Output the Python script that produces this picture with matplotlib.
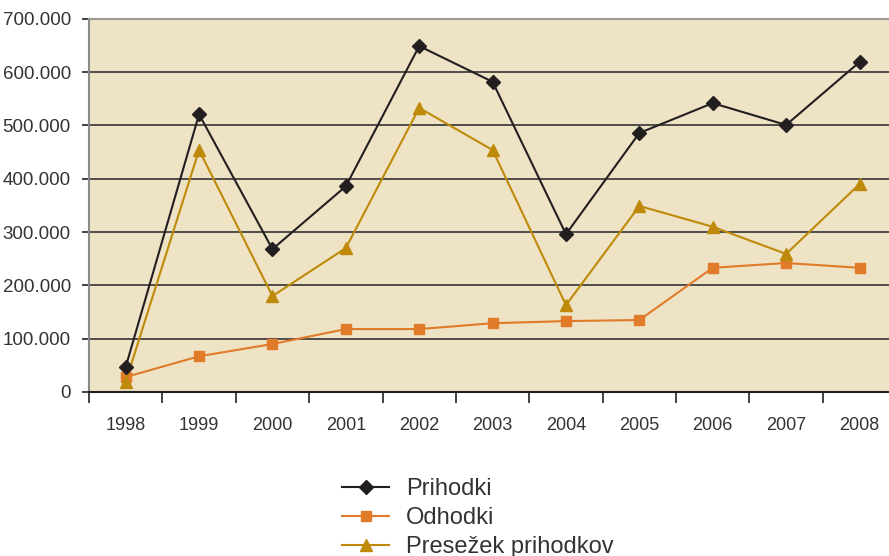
import matplotlib.pyplot as plt
from matplotlib.ticker import FuncFormatter

years = ["1998", "1999", "2000", "2001", "2002", "2003", "2004", "2005", "2006", "2007", "2008"]
prihodki = [47000, 521000, 268000, 386000, 649000, 582000, 296000, 486000, 542000, 501000, 619000]
odhodki = [28000, 67000, 90000, 118000, 118000, 129000, 133000, 135000, 233000, 242000, 233000]
presezek = [19000, 454000, 180000, 270000, 533000, 454000, 163000, 349000, 310000, 259000, 390000]

plt.rcParams["font.family"] = ["Liberation Sans", "DejaVu Sans"]

fig = plt.figure(figsize=(8.89, 5.56), dpi=100)
ax = fig.add_axes([0.1001, 0.295, 0.908, 0.671])
ax.set_facecolor("#EEE3C5")

x = list(range(len(years)))
ax.plot(x, prihodki, color="#231F20", marker="D", markersize=7, lw=1.5, label="Prihodki", zorder=4)
ax.plot(x, odhodki, color="#E07B2A", marker="s", markersize=7, lw=1.5, label="Odhodki", zorder=3)
ax.plot(x, presezek, color="#BF8A0A", marker="^", markersize=9, lw=1.5, label="Presežek prihodkov", zorder=3)

ax.set_xlim(-0.5, len(years) - 0.5)
ax.set_ylim(0, 700000)
ax.set_yticks(range(0, 700001, 100000))
ax.yaxis.set_major_formatter(FuncFormatter(lambda v, p: "0" if v == 0 else f"{int(v):,}".replace(",", ".")))
ax.grid(axis="y", color="#333333", lw=1.2, zorder=1)
ax.set_axisbelow(True)

ax.set_xticks([i - 0.5 for i in x] + [len(years) - 0.5])
ax.set_xticklabels([])
ax.set_xticks(x, minor=True)
ax.set_xticklabels(years, minor=True)
ax.tick_params(axis="x", which="minor", length=0, pad=18, labelsize=13, colors="#333333")
ax.tick_params(axis="x", which="major", length=8, width=1.2, color="#231F20")
ax.tick_params(axis="y", length=5, width=1.2, pad=8, labelsize=13.5, color="#231F20", labelcolor="#333333")

ax.spines["left"].set_color("#8A8A8A")
ax.spines["left"].set_linewidth(1.5)
ax.spines["top"].set_color("#9A9A9A")
ax.spines["top"].set_linewidth(1.5)
ax.spines["bottom"].set_color("#231F20")
ax.spines["bottom"].set_linewidth(1.5)
ax.spines["right"].set_visible(False)

fig.legend(loc="upper left", bbox_to_anchor=(0.385, 0.14), bbox_transform=fig.transFigure,
           frameon=False, fontsize=17, handlelength=2.0, labelspacing=0.3, handletextpad=0.7,
           borderaxespad=0, borderpad=0, labelcolor="#333333")

plt.savefig("out.png", dpi=100)
